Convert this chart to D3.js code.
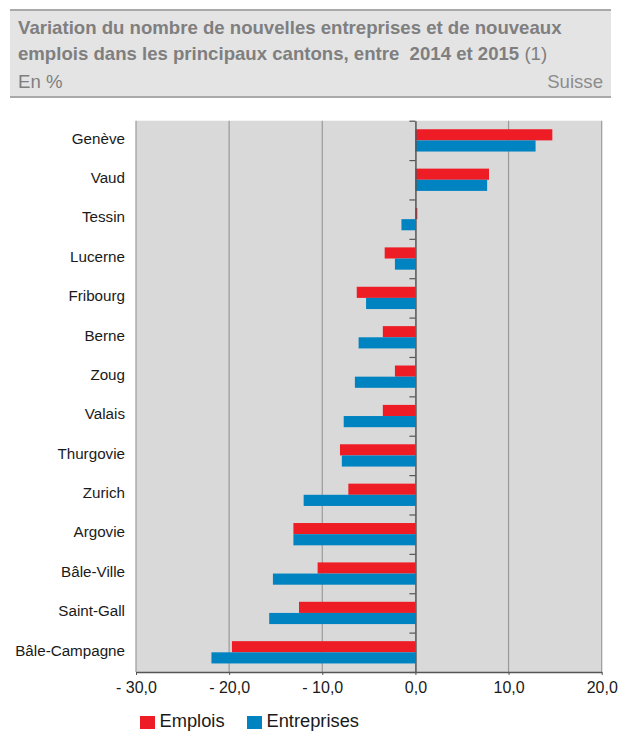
<!DOCTYPE html>
<html><head><meta charset="utf-8">
<script src="https://cdn.jsdelivr.net/npm/d3@7"></script>
<style>
html,body{margin:0;padding:0;background:#fff;}
svg{display:block;font-family:"Liberation Sans",Arial,sans-serif;}
</style></head>
<body><svg id="c" width="629" height="731"></svg>
<script>
const cantons = ["Genève","Vaud","Tessin","Lucerne","Fribourg","Berne","Zoug","Valais","Thurgovie","Zurich","Argovie","Bâle-Ville","Saint-Gall","Bâle-Campagne"];
const emplois = [14.7, 7.9, 0.2, -3.3, -6.3, -3.5, -2.2, -3.5, -8.1, -7.2, -13.1, -10.5, -12.5, -19.7];
const entreprises = [12.9, 7.7, -1.5, -2.2, -5.3, -6.1, -6.5, -7.7, -7.9, -12.0, -13.1, -15.3, -15.7, -21.9];
const seriesNames = ["Emplois","Entreprises"];
const tickValues = [-30, -20, -10, 0, 10, 20];
const tickLabels = ["- 30,0","- 20,0","- 10,0","0,0","10,0","20,0"];
const titleLines = ["Variation du nombre de nouvelles entreprises et de nouveaux", "emplois dans les principaux cantons, entre  2014 et 2015"];
const titleNote = " (1)";
const unitLabel = "En %";
const regionLabel = "Suisse";

(function(){
const colors = {Emplois:"#ee1c25", Entreprises:"#0083c1"};
const svg = d3.select("#c");

// Title box
svg.append("rect").attr("x",10).attr("y",10).attr("width",601).attr("height",87).attr("fill","#e4e4e5");
svg.append("line").attr("x1",10).attr("x2",611).attr("y1",10).attr("y2",10).attr("stroke","#a9a9a9").attr("stroke-width",2);
svg.append("line").attr("x1",10).attr("x2",611).attr("y1",97).attr("y2",97).attr("stroke","#a9a9a9").attr("stroke-width",2);
svg.append("text").attr("x",18).attr("y",34).attr("fill","#7f7f7f").attr("font-size",18.6).attr("font-weight","bold").style("white-space","pre").text(titleLines[0]);
const t2 = svg.append("text").attr("x",18).attr("y",60).attr("fill","#7f7f7f").attr("font-size",18.6).attr("font-weight","bold").style("white-space","pre");
t2.append("tspan").text(titleLines[1]);
t2.append("tspan").attr("font-weight","normal").text(titleNote);
svg.append("text").attr("x",18).attr("y",88).attr("fill","#7f7f7f").attr("font-size",18.6).text(unitLabel);
svg.append("text").attr("x",603).attr("y",88).attr("fill","#8c8c8c").attr("font-size",18.6).attr("text-anchor","end").text(regionLabel);

// Scales
const pLeft = 136, pRight = 601.7, pTop = 120.7, pBottom = 672;
const x = d3.scaleLinear().domain([-30, 20]).range([pLeft, pRight]);
const yOuter = d3.scaleBand().domain(cantons).range([pTop, pBottom]).padding(0);
const y0 = d3.scaleBand().domain(cantons).range([pTop, pBottom]).paddingInner(0.434).paddingOuter(0.217);
const y1 = d3.scaleBand().domain(seriesNames).range([0, y0.bandwidth()]);

// Plot background
svg.append("rect").attr("x",pLeft).attr("y",pTop).attr("width",pRight-pLeft).attr("height",pBottom-pTop).attr("fill","#d9d9d9");
// grid
svg.append("g").selectAll("line").data(tickValues.filter(v=>v!==0)).join("line")
  .attr("x1",d=>x(d)).attr("x2",d=>x(d)).attr("y1",pTop).attr("y2",pBottom)
  .attr("stroke","#9a9a9a").attr("stroke-width",1.2);

// bars
const data = cantons.map((c,i)=>({c, vals:[{s:"Emplois",v:emplois[i]},{s:"Entreprises",v:entreprises[i]}]}));
const g = svg.append("g");
g.selectAll("g").data(data).join("g").attr("transform",d=>`translate(0,${y0(d.c)})`)
  .selectAll("rect").data(d=>d.vals).join("rect")
  .attr("x",d=>x(Math.min(0,d.v))).attr("width",d=>Math.abs(x(d.v)-x(0)))
  .attr("y",d=>y1(d.s)).attr("height",y1.bandwidth())
  .attr("fill",d=>colors[d.s]);

// zero axis with category ticks
const zeroAxis = d3.axisLeft(d3.scalePoint().domain(d3.range(cantons.length+1)).range([pTop,pBottom]))
  .tickSize(6).tickSizeOuter(0).tickFormat("");
const za = svg.append("g").attr("transform",`translate(${x(0)},0)`).call(zeroAxis);
za.select(".domain").attr("stroke","#555").attr("stroke-width",1.5);
za.selectAll(".tick line").attr("stroke","#555").attr("stroke-width",1.2);

// category labels
svg.append("g").selectAll("text").data(cantons).join("text")
  .attr("x",125).attr("y",d=>yOuter(d)+yOuter.bandwidth()/2 - 2)
  .attr("dy","0.35em").attr("text-anchor","end").attr("font-size",15.2).attr("fill","#1a1a1a")
  .text(d=>d);

// bottom axis
const xAxis = d3.axisBottom(x).tickValues(tickValues).tickSize(3).tickSizeOuter(0)
  .tickFormat((d,i)=>tickLabels[i]);
const xa = svg.append("g").attr("transform",`translate(0,${pBottom})`).call(xAxis);
xa.select(".domain").attr("stroke","#555").attr("stroke-width",1.5);
xa.selectAll(".tick line").attr("stroke","#555");
xa.selectAll(".tick text").attr("font-size",16).attr("fill","#1a1a1a").attr("font-family","Liberation Sans, Arial, sans-serif").attr("y",10).attr("dy","0.71em");

// legend
const lg = svg.append("g");
const legendX = [140, 247];
seriesNames.forEach((s,i)=>{
  lg.append("rect").attr("x",legendX[i]).attr("y",716).attr("width",15).attr("height",13).attr("fill",colors[s]);
  lg.append("text").attr("x",legendX[i]+19.5).attr("y",727).attr("font-size",18.3).attr("fill","#1a1a1a").text(s);
});
})();
</script></body></html>
